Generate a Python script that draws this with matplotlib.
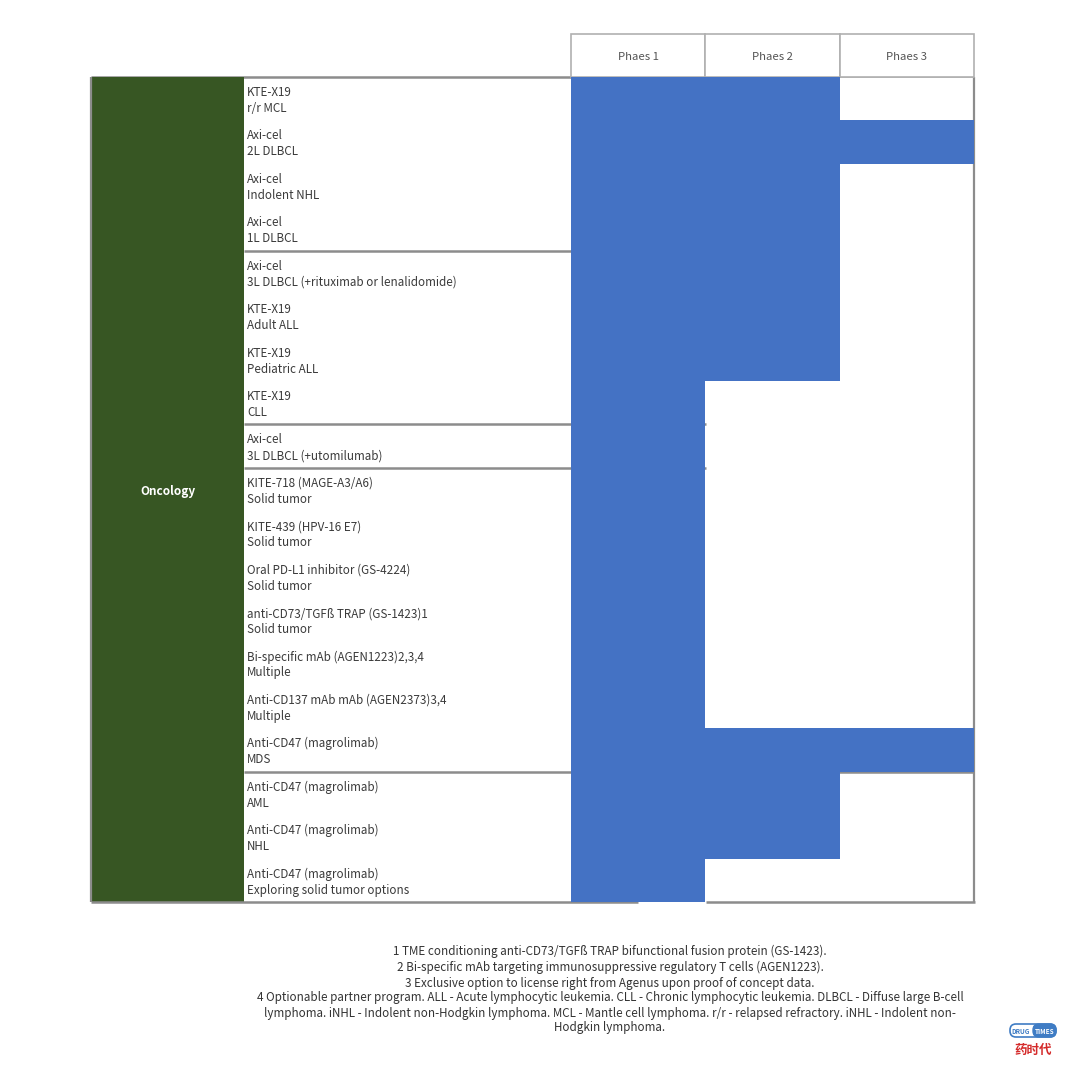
import matplotlib
matplotlib.use("Agg")
import matplotlib.pyplot as plt
from matplotlib.patches import Rectangle, FancyBboxPatch

plt.rcParams['font.family'] = ['Noto Sans CJK SC', 'DejaVu Sans']

# ---------------- data ----------------
phases = ["Phaes 1", "Phaes 2", "Phaes 3"]
category = "Oncology"
programs = [
    "KTE-X19", "Axi-cel", "Axi-cel", "Axi-cel", "Axi-cel", "KTE-X19", "KTE-X19",
    "KTE-X19", "Axi-cel", "KITE-718 (MAGE-A3/A6)", "KITE-439 (HPV-16 E7)",
    "Oral PD-L1 inhibitor (GS-4224)", "anti-CD73/TGF\u00df TRAP (GS-1423)1",
    "Bi-specific mAb (AGEN1223)2,3,4", "Anti-CD137 mAb mAb (AGEN2373)3,4",
    "Anti-CD47 (magrolimab)", "Anti-CD47 (magrolimab)", "Anti-CD47 (magrolimab)",
    "Anti-CD47 (magrolimab)",
]
indications = [
    "r/r MCL", "2L DLBCL", "Indolent NHL", "1L DLBCL",
    "3L DLBCL (+rituximab or lenalidomide)", "Adult ALL", "Pediatric ALL", "CLL",
    "3L DLBCL (+utomilumab)", "Solid tumor", "Solid tumor", "Solid tumor",
    "Solid tumor", "Multiple", "Multiple", "MDS", "AML", "NHL",
    "Exploring solid tumor options",
]
progress = [2, 3, 2, 2, 2, 2, 2, 1, 1, 1, 1, 1, 1, 1, 1, 3, 2, 2, 1]
footnotes = [
    "1 TME conditioning anti-CD73/TGF\u00df TRAP bifunctional fusion protein (GS-1423).",
    "2 Bi-specific mAb targeting immunosuppressive regulatory T cells (AGEN1223).",
    "3 Exclusive option to license right from Agenus upon proof of concept data.",
    "4 Optionable partner program. ALL - Acute lymphocytic leukemia. CLL - Chronic lymphocytic leukemia. DLBCL - Diffuse large B-cell",
    "lymphoma. iNHL - Indolent non-Hodgkin lymphoma. MCL - Mantle cell lymphoma. r/r - relapsed refractory. iNHL - Indolent non-",
    "Hodgkin lymphoma.",
]

# ---------------- style ----------------
W, H = 1080, 1071
GREEN = "#375623"
BLUE = "#4472C4"
GRID = "#8c8c8c"
TXT = "#3a3a3a"

X_GREEN, X_LAB, X_BAR, X_END = 91, 244, 571, 974
Y_HEAD, Y_TOP, Y_BOT = 34, 77, 902
n = len(programs)
rh = (Y_BOT - Y_TOP) / n

fig = plt.figure(figsize=(W / 100, H / 100), dpi=100)
fig.patch.set_facecolor("white")

# overlay axes in pixel coordinates
ov = fig.add_axes([0, 0, 1, 1])
ov.set_xlim(0, W)
ov.set_ylim(H, 0)
ov.axis("off")

# bar axes (phase units x rows)
bx = fig.add_axes([X_BAR / W, (H - Y_BOT) / H, (X_END - X_BAR) / W, (Y_BOT - Y_TOP) / H])
bx.set_xlim(0, len(phases))
bx.set_ylim(n, 0)
bx.axis("off")
bx.patch.set_alpha(0)

LKW = dict(solid_capstyle="butt")

# borders of table (under bars)
ov.plot([X_END, X_END], [Y_TOP, Y_BOT], color=GRID, lw=1.6, zorder=1, **LKW)
ov.plot([X_GREEN, X_BAR], [Y_TOP, Y_TOP], color=GRID, lw=1.8, zorder=1, **LKW)
ov.plot([X_BAR, X_END], [Y_TOP, Y_TOP], color="#b0b0b0", lw=1.2, zorder=1, **LKW)

# header cells
pw = (X_END - X_BAR) / len(phases)
for i, p in enumerate(phases):
    x0 = X_BAR + i * pw
    ov.add_patch(Rectangle((x0, Y_HEAD), pw, Y_TOP - Y_HEAD, facecolor="white",
                           edgecolor="#b0b0b0", lw=1.2, zorder=2))
    ov.text(x0 + pw / 2, (Y_HEAD + Y_TOP) / 2 + 1, p, ha="center", va="center",
            fontsize=8.2, color="#555555", zorder=3)

# green category column
ov.add_patch(Rectangle((X_GREEN, Y_TOP), X_LAB - X_GREEN, Y_BOT - Y_TOP,
                       facecolor=GREEN, edgecolor="none", zorder=2))
ov.plot([X_GREEN, X_GREEN], [Y_TOP, Y_BOT], color=GRID, lw=1.6, zorder=3, **LKW)
ov.text((X_GREEN + X_LAB) / 2, (Y_TOP + Y_BOT) / 2 + 2, category, ha="center",
        va="center", fontsize=8.5, color="white", fontweight="semibold", zorder=4)

# bars
bx.barh(range(n), progress, height=1.0, left=0, align="edge",
        color=BLUE, edgecolor="none", zorder=2)

# labels
for i, (pg, ind) in enumerate(zip(programs, indications)):
    y0 = Y_TOP + i * rh
    ov.text(X_LAB + 3, y0 + 15.5, pg, ha="left", va="center", fontsize=8.4, color=TXT, zorder=4)
    ov.text(X_LAB + 3, y0 + 31.5, ind, ha="left", va="center", fontsize=8.4, color=TXT, zorder=4)

# group separators (drawn over bars)
def hline(row, x1, lw=1.8):
    y = Y_TOP + row * rh
    ov.plot([X_LAB, x1], [y, y], color=GRID, lw=lw, zorder=5, **LKW)

hline(4, 773)
hline(8, 706)
hline(9, 706)
hline(16, X_END)
ov.plot([X_GREEN, 638], [Y_BOT, Y_BOT], color=GRID, lw=1.8, zorder=5, **LKW)
ov.plot([706, X_END + 0.8], [Y_BOT, Y_BOT], color=GRID, lw=1.8, zorder=5, **LKW)

# footnotes
fy = [951, 967, 983, 998, 1013, 1028]
for y, t in zip(fy, footnotes):
    ov.text(610, y, t, ha="center", va="center", fontsize=8.4, color="#333333")

# logo
ov.add_patch(FancyBboxPatch((1010, 1024), 46, 13, boxstyle="round,pad=0,rounding_size=6",
                            facecolor="white", edgecolor="#3f7cc4", lw=1.2))
ov.add_patch(FancyBboxPatch((1033, 1024), 23, 13, boxstyle="round,pad=0,rounding_size=6",
                            facecolor="#3f7cc4", edgecolor="#3f7cc4", lw=1.0))
ov.text(1021, 1031, "DRUG", ha="center", va="center", fontsize=4.6, color="#3f7cc4",
        fontweight="bold")
ov.text(1045, 1031, "TIMES", ha="center", va="center", fontsize=4.6, color="white",
        fontweight="bold")
ov.text(1033, 1050, "药时代", ha="center", va="center", fontsize=9, color="#d42a2a",
        fontweight="bold")

fig.savefig("out.png", dpi=100, facecolor="white")
